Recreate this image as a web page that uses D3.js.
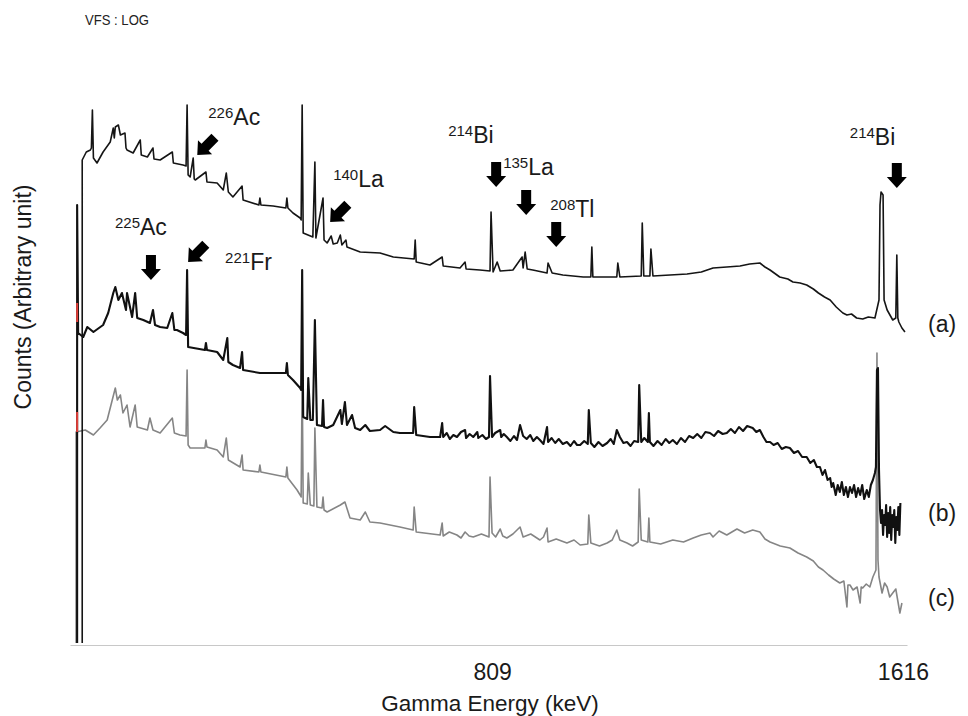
<!DOCTYPE html>
<html>
<head>
<meta charset="utf-8">
<script src="https://cdn.jsdelivr.net/npm/d3@7/dist/d3.min.js"></script>
<style>
  body { margin: 0; background: #fff; }
  text { font-family: "Liberation Sans", Arial, sans-serif; fill: #1a1a1a; }
</style>
</head>
<body>
<svg width="968" height="716"></svg>
<script>
// Energy ticks shown on the axis (keV)
var energyTicks = [809, 1616];

// Spectra: [energy keV, counts (arbitrary unit)]
var traceA = [[4,2],[4,485],[12,493],[20,495],[22,497],[24,535],[26,487],[33,482],[45,493],[59,503],[65,517],[67,507],[69,518],[75,520],[79,510],[88,512],[90,497],[92,495],[104,492],[118,505],[120,490],[132,488],[143,497],[145,486],[157,485],[181,493],[183,482],[202,480],[208,479],[210,540],[212,470],[216,468],[222,487],[224,466],[226,465],[247,473],[249,463],[269,462],[281,455],[287,472],[291,453],[300,448],[318,459],[320,445],[351,440],[353,447],[355,440],[379,439],[404,437],[406,447],[408,437],[418,432],[432,427],[434,425],[436,540],[438,412],[457,408],[461,483],[463,407],[477,447],[479,405],[485,402],[493,409],[497,401],[505,402],[511,410],[514,400],[522,405],[524,398],[550,393],[589,392],[615,388],[656,386],[658,405],[660,383],[687,380],[711,388],[713,379],[746,377],[756,383],[758,376],[785,375],[805,374],[807,433],[811,373],[819,383],[825,374],[850,375],[868,388],[870,377],[874,393],[878,376],[889,375],[917,372],[919,382],[927,372],[948,370],[988,368],[1003,368],[1005,398],[1007,368],[1054,368],[1056,382],[1060,368],[1102,369],[1104,422],[1107,369],[1119,369],[1121,396],[1125,369],[1192,371],[1220,373],[1243,377],[1270,378],[1296,379],[1315,381],[1335,382],[1345,378],[1355,375],[1374,368],[1390,366],[1400,363],[1414,362],[1427,360],[1440,356],[1450,352],[1462,348],[1473,345],[1485,338],[1498,332],[1506,330],[1515,331],[1525,327],[1537,326],[1548,328],[1561,327],[1569,345],[1571,440],[1573,453],[1577,450],[1579,345],[1585,335],[1596,325],[1602,327],[1604,390],[1606,327],[1608,323],[1614,317],[1620,313]];

var traceB = [[-6,2],[-6,440],[-4,312],[6,308],[14,318],[26,313],[45,320],[55,332],[65,352],[69,358],[75,345],[82,352],[90,335],[92,352],[102,328],[108,352],[112,327],[124,325],[137,322],[143,335],[147,320],[157,318],[171,317],[181,332],[185,315],[190,315],[202,312],[208,310],[210,375],[212,298],[245,295],[247,302],[249,295],[269,293],[281,285],[289,307],[291,283],[300,280],[314,277],[318,293],[320,275],[353,272],[404,272],[406,282],[408,270],[418,265],[432,257],[434,255],[436,375],[438,228],[446,226],[448,267],[452,225],[457,225],[461,325],[465,220],[475,219],[477,245],[479,218],[485,217],[497,220],[511,235],[514,221],[520,243],[524,220],[534,230],[540,217],[550,215],[560,220],[569,214],[589,215],[599,219],[615,213],[628,212],[654,212],[656,238],[660,210],[687,208],[707,208],[711,222],[713,208],[720,212],[726,206],[733,210],[740,208],[748,213],[756,215],[758,207],[765,211],[772,208],[780,213],[782,207],[790,210],[797,206],[803,208],[805,269],[809,208],[815,212],[825,215],[827,208],[832,211],[838,208],[845,204],[852,209],[858,205],[864,220],[870,209],[877,206],[884,210],[890,204],[897,208],[903,205],[910,201],[917,218],[919,203],[926,207],[933,202],[940,206],[948,201],[956,203],[963,199],[970,204],[976,200],[982,200],[990,204],[997,201],[999,235],[1003,202],[1010,198],[1018,203],[1026,199],[1035,202],[1042,206],[1048,201],[1054,215],[1060,208],[1067,202],[1074,203],[1081,199],[1088,204],[1096,203],[1098,260],[1102,203],[1108,207],[1115,203],[1117,232],[1119,203],[1126,199],[1134,204],[1142,200],[1150,206],[1157,202],[1164,205],[1172,201],[1180,207],[1188,203],[1196,209],[1204,207],[1212,211],[1220,207],[1228,213],[1237,212],[1245,209],[1253,214],[1262,211],[1270,212],[1278,216],[1286,212],[1294,218],[1302,214],[1310,219],[1321,217],[1328,213],[1335,215],[1342,208],[1348,203],[1355,203],[1362,200],[1370,202],[1378,196],[1386,198],[1394,197],[1402,192],[1410,194],[1418,188],[1427,188],[1434,182],[1441,185],[1447,178],[1453,178],[1458,170],[1463,175],[1468,165],[1473,167],[1476,158],[1479,162],[1484,150],[1488,160],[1492,153],[1496,163],[1500,150],[1504,158],[1508,148],[1512,158],[1516,152],[1520,160],[1524,148],[1528,157],[1532,150],[1536,160],[1540,146],[1545,155],[1549,148],[1553,160],[1557,165],[1561,172],[1563,178],[1565,275],[1567,277],[1569,175],[1571,135],[1573,122],[1575,135],[1577,110],[1579,130],[1581,120],[1583,140],[1585,108],[1587,132],[1589,112],[1591,138],[1593,105],[1595,130],[1597,118],[1599,135],[1601,102],[1603,128],[1605,115],[1607,138],[1609,110],[1611,142]];

var traceC = [[-8,2],[-8,213],[10,215],[26,210],[39,217],[53,225],[63,245],[69,257],[73,245],[79,250],[84,232],[92,240],[98,218],[108,240],[112,218],[132,215],[137,227],[143,215],[157,212],[181,227],[185,212],[196,210],[208,209],[210,275],[212,200],[216,197],[245,197],[247,205],[249,198],[269,195],[281,188],[287,207],[291,185],[314,178],[318,190],[320,175],[351,173],[353,180],[355,173],[404,168],[406,178],[408,167],[426,155],[432,150],[434,148],[436,270],[438,142],[446,141],[448,172],[452,140],[459,139],[461,217],[465,138],[475,137],[477,148],[479,135],[485,133],[511,140],[520,143],[530,127],[550,125],[560,133],[569,123],[589,122],[628,118],[654,115],[656,138],[660,113],[707,110],[711,122],[713,109],[725,113],[740,110],[748,107],[756,113],[764,109],[772,108],[788,111],[803,108],[805,168],[809,112],[816,108],[825,116],[830,109],[838,107],[850,111],[864,118],[870,108],[885,111],[903,105],[910,108],[917,117],[919,103],[935,106],[956,102],[970,105],[982,100],[997,101],[999,130],[1003,102],[1020,99],[1035,102],[1045,105],[1054,115],[1060,105],[1074,102],[1085,99],[1096,103],[1098,156],[1102,105],[1115,103],[1117,127],[1119,103],[1140,101],[1164,105],[1185,103],[1204,107],[1220,110],[1237,112],[1243,108],[1255,114],[1270,110],[1290,116],[1305,112],[1321,115],[1335,113],[1345,106],[1355,103],[1375,99],[1394,97],[1410,92],[1427,88],[1440,84],[1450,78],[1459,75],[1470,70],[1480,66],[1492,62],[1500,64],[1506,38],[1508,60],[1512,60],[1518,55],[1526,58],[1532,42],[1534,58],[1537,57],[1544,61],[1551,58],[1557,68],[1563,75],[1565,292],[1567,85],[1569,68],[1575,52],[1580,62],[1585,58],[1590,48],[1596,52],[1602,56],[1606,44],[1610,32],[1614,42]];

var traces = [traceA, traceB, traceC];
var traceNames = ["(a)", "(b)", "(c)"];
// where each trace label sits (counts)
var traceLabelCounts = [313, 124, 39];

// red ROI markers on the left edge: [energy, from, to]
var markers = [[-6, 323, 342], [-6, 213, 233]];

// peak annotations: mass number, element, arrow tip [energy, counts], arrow kind
var peakMass = ["226", "140", "214", "135", "208", "214", "225", "221"];
var peakElem = ["Ac", "La", "Bi", "La", "Tl", "Bi", "Ac", "Fr"];
var peakTip = [[230,490],[491,423],[817,458],[876,430],[935,398],[1604,457],[139,365],[212,383]];
var peakKind = ["diag", "diag", "down", "down", "down", "down", "down", "diag"];
// label offset from the arrow tip (px)
var labelOffset = [[11,-30],[3,-35],[-48,-44],[-23,-40],[-6,-30],[-47,-43],[-36,-45],[37,8]];

var svg = d3.select("svg");

var x = d3.scaleLinear().domain([-20, 1624]).range([70, 907]);
var y = d3.scaleLinear().domain([0, 560]).range([645, 85]);

svg.append("text")
  .attr("x", 85).attr("y", 25)
  .attr("font-size", 15)
  .attr("textLength", 64).attr("lengthAdjust", "spacingAndGlyphs")
  .style("fill", "#222")
  .text("VFS : LOG");

// x axis, only a light line and two labels
var xAxis = svg.append("g")
  .attr("transform", "translate(0,645)")
  .call(d3.axisBottom(x).tickValues(energyTicks).tickSize(0).tickPadding(19).tickFormat(d3.format("d")));
xAxis.select(".domain").attr("stroke", "#c8c8c8").attr("stroke-width", 1.2);
xAxis.selectAll("text")
  .attr("font-size", 23)
  .attr("font-family", "Liberation Sans, Arial, sans-serif")
  .style("fill", "#1a1a1a");

svg.append("text")
  .attr("x", 490).attr("y", 711)
  .attr("text-anchor", "middle")
  .attr("font-size", 22.5)
  .text("Gamma Energy (keV)");

svg.append("text")
  .attr("transform", "translate(31,297) rotate(-90)")
  .attr("text-anchor", "middle")
  .attr("font-size", 23)
  .text("Counts (Arbitrary unit)");

var line = d3.line()
  .x(function(d) { return x(d[0]); })
  .y(function(d) { return y(d[1]); });

var colors = ["#151515", "#111", "#858585"];
var widths = [1.6, 2.1, 1.6];

// draw c first so the black traces sit on top
[2, 1, 0].forEach(function(i) {
  svg.append("path")
    .datum(traces[i])
    .attr("fill", "none")
    .attr("stroke", colors[i])
    .attr("stroke-width", widths[i])
    .attr("stroke-linejoin", "round")
    .attr("d", line);
});

svg.selectAll(".marker")
  .data(markers)
  .enter().append("line")
    .attr("class", "marker")
    .attr("x1", function(d) { return x(d[0]); })
    .attr("x2", function(d) { return x(d[0]); })
    .attr("y1", function(d) { return y(d[1]); })
    .attr("y2", function(d) { return y(d[2]); })
    .attr("stroke", "#e0403a")
    .attr("stroke-width", 2);

svg.selectAll(".trace-label")
  .data(traceNames)
  .enter().append("text")
    .attr("class", "trace-label")
    .attr("x", 928)
    .attr("y", function(d, i) { return y(traceLabelCounts[i]); })
    .attr("font-size", 23)
    .text(function(d) { return d; });

// block arrow pointing down, tip at the origin
var arrowPath = "M0,0L-10,-11L-5,-11L-5,-25L5,-25L5,-11L10,-11Z";

var peaks = svg.selectAll(".peak")
  .data(peakMass)
  .enter().append("g")
    .attr("class", "peak")
    .attr("transform", function(d, i) {
      return "translate(" + x(peakTip[i][0]) + "," + y(peakTip[i][1]) + ")";
    });

peaks.append("path")
  .attr("d", arrowPath)
  .attr("fill", "#000")
  .attr("transform", function(d, i) { return peakKind[i] == "diag" ? "rotate(45)" : null; });

var lbl = peaks.append("text")
  .attr("x", function(d, i) { return labelOffset[i][0]; })
  .attr("y", function(d, i) { return labelOffset[i][1]; })
  .attr("font-size", 23);
lbl.append("tspan")
  .attr("font-size", 15)
  .attr("dy", -7)
  .text(function(d) { return d; });
lbl.append("tspan")
  .attr("dy", 7)
  .text(function(d, i) { return peakElem[i]; });
</script>
</body>
</html>
